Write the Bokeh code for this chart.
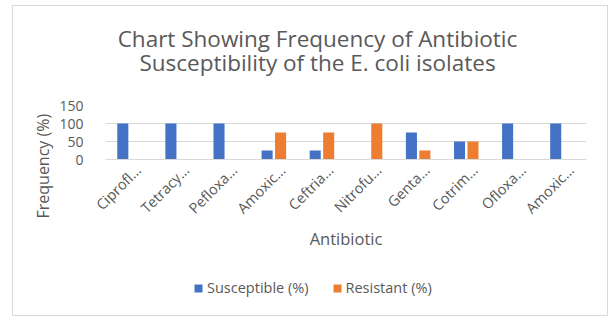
import math
from bokeh.plotting import figure
from bokeh.layouts import column
from bokeh.models import Range1d, FixedTicker, Legend, LegendItem, Title, Label
from bokeh.embed import file_html
from bokeh.resources import INLINE

antibiotics = ["Ciprofl…", "Tetracy…", "Pefloxa…", "Amoxic…", "Ceftria…",
               "Nitrofu…", "Genta…", "Cotrim…", "Ofloxa…", "Amoxic…"]
susceptible = [100, 100, 100, 25, 25, 0, 75, 50, 100, 100]
resistant = [0, 0, 0, 75, 75, 100, 25, 50, 0, 0]
y_ticks = [0, 50, 100, 150]
series_names = ["Susceptible (%)", "Resistant (%)"]
title_lines = ["Chart Showing Frequency of Antibiotic",
               "Susceptibility of the E. coli isolates"]

FONT = "Open Sans"
GREY = "#595959"
BLUE = "#4472C4"
ORANGE = "#ED7D31"
W = 594
# the column aligns all frames to the main chart's frame (page x 105..586)
FRAME_X = (105, 586)


def strip(h):
    f = figure(width=W, height=h, output_backend="svg", toolbar_location=None,
               x_range=Range1d(*FRAME_X), y_range=Range1d(h, 0),
               x_axis_location=None, y_axis_location=None, min_border=0,
               min_border_left=92, min_border_right=21)
    f.outline_line_color = None
    for g in f.grid:
        g.visible = False
    return f


# ---- title strip ----
top = strip(87)
for txt, yy in zip(title_lines, [32, 56]):
    top.add_layout(Label(x=317, y=yy, text=txt, text_align="center", text_baseline="middle",
                         text_font=FONT, text_font_size="22.5px", text_color=GREY))

# ---- main chart ----
p = figure(width=W, height=170, output_backend="svg", toolbar_location=None,
           x_range=Range1d(0, 10), y_range=Range1d(0, 150),
           min_border_left=92, min_border_right=21, min_border_top=12, min_border_bottom=104)
p.outline_line_color = None

centers = [i + 0.5 for i in range(len(antibiotics))]
xs_s = [c - 0.14 for c in centers]
xs_r = [c + 0.14 for c in centers]
p.vbar(x=xs_s, top=susceptible, width=0.23, fill_color=BLUE, line_color=None)
p.vbar(x=xs_r, top=resistant, width=0.23, fill_color=ORANGE, line_color=None)

p.yaxis.ticker = FixedTicker(ticks=y_ticks)
p.yaxis.axis_line_color = None
p.yaxis.major_tick_line_color = None
p.yaxis.minor_tick_line_color = None
p.yaxis.major_label_text_font = FONT
p.yaxis.major_label_text_font_size = "14px"
p.yaxis.major_label_text_color = GREY
p.yaxis.major_label_standoff = 16

# rotated labels: anchor slightly right of each category centre (as in the reference)
label_pos = [c + 0.18 for c in centers]
p.xaxis.ticker = FixedTicker(ticks=label_pos)
p.xaxis.major_label_overrides = {c: lab for c, lab in zip(label_pos, antibiotics)}
p.xaxis.axis_line_color = "#d9d9d9"
p.xaxis.major_tick_line_color = None
p.xaxis.minor_tick_line_color = None
p.xaxis.major_label_orientation = math.pi / 4
p.xaxis.major_label_text_font = FONT
p.xaxis.major_label_text_font_size = "14.5px"
p.xaxis.major_label_text_color = GREY
p.xaxis.major_label_standoff = 2
p.xaxis.axis_label = "Antibiotic"
p.xaxis.axis_label_text_font = FONT
p.xaxis.axis_label_text_font_size = "16.5px"
p.xaxis.axis_label_text_font_style = "normal"
p.xaxis.axis_label_text_color = GREY
p.xaxis.axis_label_standoff = 0

p.xgrid.grid_line_color = None
p.ygrid.grid_line_color = "#d9d9d9"
p.ygrid.ticker = FixedTicker(ticks=y_ticks)

p.add_layout(Title(text="Frequency (%)", align="left", offset=-59,
                   text_font=FONT, text_font_size="16px", text_font_style="normal",
                   text_color=GREY, standoff=5), "left")

# ---- legend strip (hidden copies of the series give the legend its swatches) ----
bot = strip(52)
d1 = bot.vbar(x=centers, top=susceptible, width=0.23, fill_color=BLUE, line_color=None, visible=False)
d2 = bot.vbar(x=centers, top=resistant, width=0.23, fill_color=ORANGE, line_color=None, visible=False)
legend = Legend(items=[LegendItem(label=series_names[0], renderers=[d1]),
                       LegendItem(label=series_names[1], renderers=[d2])],
                location=(88, 18), orientation="horizontal",
                glyph_width=10, glyph_height=10, label_standoff=4, spacing=23,
                padding=0, margin=0, border_line_color=None, background_fill_alpha=0,
                inactive_fill_alpha=0,
                label_text_font=FONT, label_text_font_size="14.5px", label_text_color=GREY,
                label_height=14)
bot.add_layout(legend, "center")

layout = column(top, p, bot, spacing=0)
layout.margin = (5, 0, 0, 12)
layout.styles = {"border": "1px solid #d9d9d9"}

open("out.html", "w").write(file_html(layout, INLINE))
